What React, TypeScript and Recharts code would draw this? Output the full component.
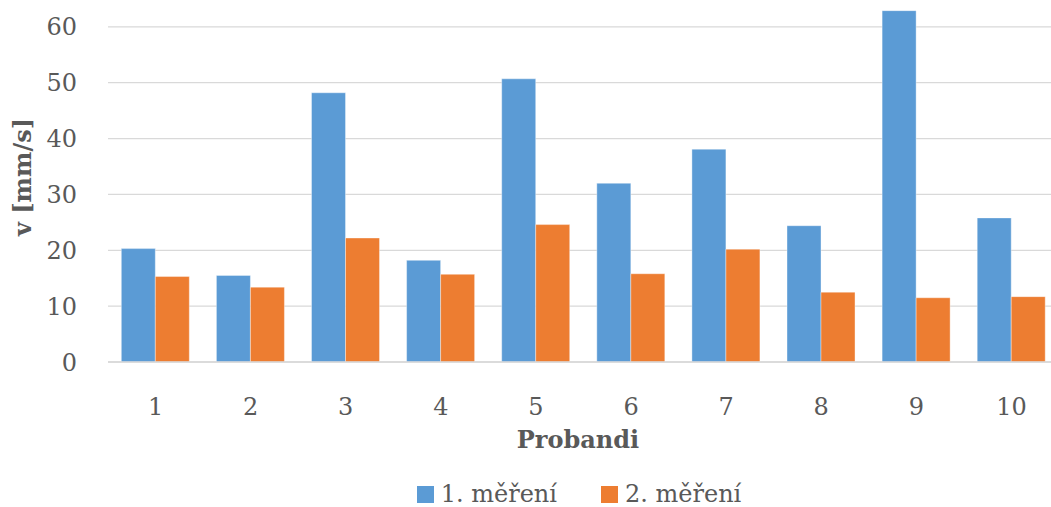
import React from "react";
import {
  BarChart,
  Bar,
  XAxis,
  YAxis,
  CartesianGrid,
  Legend,
  Label,
} from "recharts";

const probandi = ["1", "2", "3", "4", "5", "6", "7", "8", "9", "10"];
const mereni1 = [20.3, 15.5, 48.2, 18.2, 50.7, 32.0, 38.1, 24.4, 62.9, 25.8];
const mereni2 = [15.3, 13.4, 22.2, 15.7, 24.6, 15.8, 20.2, 12.5, 11.5, 11.7];
const yTicks = [0, 10, 20, 30, 40, 50, 60];

const SERIES = [
  { key: "m1", name: "1. měření", color: "#5B9BD5" },
  { key: "m2", name: "2. měření", color: "#ED7D31" },
];

const FONT = '"DejaVu Serif", serif';
const TEXT = "#595959";
const GRID = "#d9d9d9";

const data = probandi.map((p, i) => ({
  proband: p,
  m1: mereni1[i],
  m2: mereni2[i],
}));

function LegendBox() {
  return (
    <div
      style={{
        display: "flex",
        justifyContent: "center",
        alignItems: "center",
        height: 24,
        fontFamily: FONT,
        fontSize: 24,
        lineHeight: "24px",
        color: TEXT,
      }}
    >
      {SERIES.map((s, i) => (
        <div
          key={s.key}
          style={{
            display: "flex",
            alignItems: "center",
            marginRight: i === 0 ? 44 : 0,
          }}
        >
          <div
            style={{ width: 17, height: 17, background: s.color, marginRight: 7 }}
          />
          <span>{s.name}</span>
        </div>
      ))}
    </div>
  );
}

function YTitle(props: any) {
  const vb = props.viewBox || { y: 0, height: 0 };
  const cx = 22.5;
  const cy = vb.y + vb.height / 2 + 10.5;
  return (
    <text
      x={cx}
      y={cy}
      transform={`rotate(-90 ${cx} ${cy})`}
      textAnchor="middle"
      dominantBaseline="central"
      fill={TEXT}
      fontFamily={FONT}
      fontSize={24}
      fontWeight="bold"
    >
      v [mm/s]
    </text>
  );
}

export default function App() {
  return (
    <div
      style={{
        position: "absolute",
        left: 0,
        top: 0,
        width: 1051,
        height: 507,
        overflow: "hidden",
        background: "#fff",
      }}
    >
      {/* plot area runs past the frame on the top and right */}
      <div style={{ position: "absolute", left: 0, top: -29 }}>
        <BarChart
          width={1060}
          height={536}
          data={data}
          margin={{ top: 0, right: 1, bottom: 35, left: 0 }}
          barCategoryGap="14%"
          barGap={0}
        >
          <CartesianGrid vertical={false} stroke={GRID} strokeWidth={1.3} />
          <XAxis
            dataKey="proband"
            interval={0}
            tickLine={false}
            tickSize={0}
            tickMargin={36}
            height={86}
            axisLine={{ stroke: GRID, strokeWidth: 1.3 }}
            tick={{ fill: TEXT, fontSize: 24, fontFamily: FONT }}
          >
            <Label
              value="Probandi"
              position="insideBottom"
              offset={0}
              dx={-5.5}
              fill={TEXT}
              fontSize={24}
              fontFamily={FONT}
              fontWeight="bold"
            />
          </XAxis>
          <YAxis
            width={108}
            domain={[0, 70]}
            ticks={yTicks}
            axisLine={false}
            tickLine={false}
            tickSize={0}
            tickMargin={31}
            tick={{ fill: TEXT, fontSize: 24, fontFamily: FONT }}
          >
            <Label content={<YTitle />} />
          </YAxis>
          <Legend
            verticalAlign="bottom"
            content={<LegendBox />}
            wrapperStyle={{ top: 511, left: 108, width: 942, bottom: "auto" }}
          />
          {SERIES.map((s) => (
            <Bar
              key={s.key}
              dataKey={s.key}
              name={s.name}
              fill={s.color}
              stroke="#ffffff"
              strokeOpacity={0.5}
              strokeWidth={0.75}
              isAnimationActive={false}
            />
          ))}
        </BarChart>
      </div>
    </div>
  );
}
